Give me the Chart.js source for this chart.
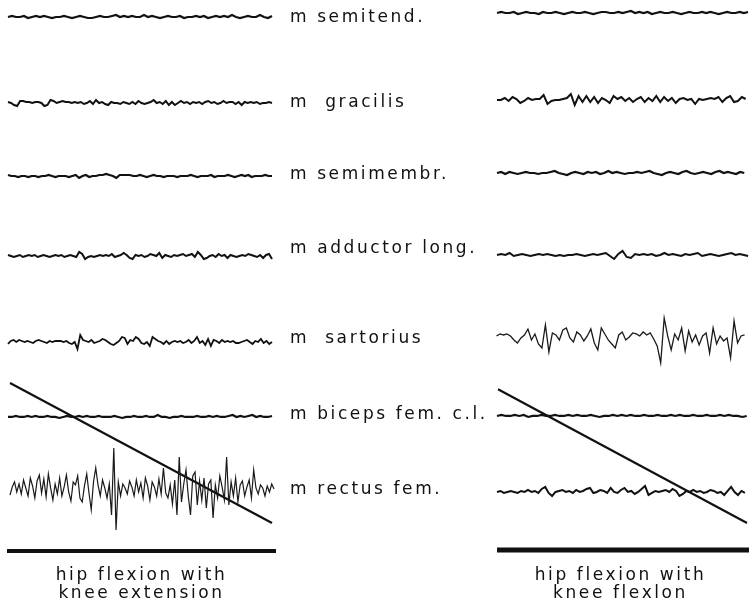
<!DOCTYPE html>
<html>
<head>
<meta charset="utf-8">
<script src="https://cdn.jsdelivr.net/npm/chart.js@4.4.1/dist/chart.umd.min.js"></script>
<style>
  html, body { margin: 0; padding: 0; background: #fff; overflow: hidden; width: 749px; height: 605px; }
  #left  { position: absolute; left: 0; top: 0; }
  #right { position: absolute; left: 490px; top: 0; }
</style>
</head>
<body>
<canvas id="left" width="490" height="605"></canvas>
<canvas id="right" width="280" height="605"></canvas>
<script>
// Muscle channels, top to bottom
const muscles = ['m semitend.', 'm  gracilis', 'm semimembr.', 'm adductor long.', 'm  sartorius', 'm biceps fem. c.l.', 'm rectus fem.'];

// Conditions
const captionLeft  = ['hip flexion with', 'knee extension'];
const captionRight = ['hip flexion with', 'knee flexlon'];

// EMG deflections (upward positive), hip flexion with knee extension
const semitendL = [0,1,0,0,1,-1,0,1,0,1,0,-1,0,0,1,0,-1,0,1,0,-1,-1,0,1,0,0,1,2,0,1,0,1,0,0,2,0,1,0,-1,0,1,0,0,1,-1,0,0,1,0,1,-1,0,1,0,1,0,2,0,-1,0,1,0,0,2,0,-1,1];
const gracilisL = [1,0,-2,-3,2,2,1,1,0,1,1,0,-3,-2,3,2,0,1,2,1,1,0,1,0,1,-1,0,2,-1,3,0,1,-1,-2,1,0,0,-1,1,0,-1,1,-1,2,0,-1,0,1,3,0,1,-1,2,-2,1,-2,0,2,0,1,-1,1,0,1,-1,1,2,0,1,-1,0,2,0,1,1,-1,1,-2,1,0,1,0,1,-1,0,0,1,0];
const semimembrL = [1,0,0,-1,0,0,-1,0,0,-1,0,0,1,0,-1,0,0,0,-1,0,1,-2,0,1,-1,0,0,1,1,2,1,0,-2,1,1,1,1,0,0,1,0,-1,0,1,0,0,-1,0,0,0,-1,0,0,0,1,0,-1,0,0,0,1,-1,0,0,0,1,0,-1,0,1,0,1,-1,0,0,0,1,0,0];
const adductorL = [1,0,-1,0,1,-1,0,1,0,1,-1,0,1,0,-1,0,1,0,1,-1,0,1,0,-1,4,2,-3,-1,0,-1,0,1,0,1,0,2,-1,0,1,3,1,-2,-3,1,0,1,-1,0,2,1,0,3,-2,1,0,-1,1,0,1,2,0,1,2,-1,4,1,-3,-2,0,1,-1,2,0,1,-2,1,0,-1,0,1,0,2,1,0,-1,1,-2,1,2,-3];
const sartoriusL = [-2,1,2,0,2,1,0,1,0,-1,1,2,1,0,-1,1,0,1,1,1,0,1,-1,-2,0,-7,7,2,1,0,2,-1,0,1,3,2,0,-2,-3,-1,1,5,4,-2,2,1,5,3,-1,-2,0,-4,5,3,1,0,-2,1,-2,0,1,0,1,-1,0,2,-1,1,5,-1,1,-3,3,-4,2,1,-1,2,0,1,0,1,-1,-1,0,1,2,0,-2,1,0,3,-1,1,-2,0];
const bicepsL = [0,0,1,0,0,1,0,1,0,0,1,0,0,-1,0,1,0,0,1,0,1,0,0,1,0,0,0,1,0,-1,0,0,1,0,0,1,0,0,2,0,0,-1,0,0,1,0,0,0,1,0,0,1,0,1,0,0,1,2,0,1,0,1,2,0,1,0,0,1];
const rectusL = [-5,3,8,-2,6,-4,10,2,-6,12,4,-8,9,15,-3,11,-7,16,2,-10,
                 6,-4,12,-6,3,15,-2,-11,8,5,14,-8,-12,4,16,-3,-20,8,22,5,
                 -6,10,2,-8,6,-25,42,-40,8,-6,6,2,-4,9,3,-6,10,-2,7,-8,
                 12,4,-10,8,3,-6,11,-4,22,-3,-8,5,-14,10,-25,33,-12,6,20,-6,
                 -25,14,18,-15,9,-10,12,-18,6,10,-28,5,-8,14,3,-10,33,-15,8,-6,
                 12,-12,5,9,-6,3,10,-8,20,2,-4,5,2,-6,4,-2,6,1];

// EMG deflections, hip flexion with knee flexion
const semitendR = [0,1,0,0,1,-1,0,1,0,0,-1,1,0,0,1,0,-1,0,1,0,0,1,0,-1,0,1,1,0,0,1,0,1,2,0,1,0,1,-1,0,1,0,0,1,0,-1,0,1,0,0,1,0,1,0,-1,0,1,0,0,1,0,1,0,0,1,-1,0];
const gracilisR = [0,0,2,-1,3,1,-3,-1,2,0,1,1,5,-4,-1,0,0,1,2,6,-5,4,-2,4,-2,3,-3,2,0,-3,4,1,3,-1,2,-2,1,3,-2,2,-1,4,-2,3,-1,2,-3,1,2,0,1,-4,1,0,1,2,1,3,-2,2,4,-2,-1,3,1,-3,2,1,3,-1,2];
const semimembrR = [0,1,-1,1,0,-1,0,1,0,0,-1,0,0,1,2,0,-1,-2,0,1,0,-1,1,0,1,-1,0,2,0,1,0,-1,0,0,1,0,1,2,0,-1,-2,0,1,0,-1,1,2,0,-1,0,1,0,-1,1,2,0,1,0,-1,1,0,1,0,-1,1,0,1];
const adductorR = [0,1,0,2,-1,0,1,0,-1,0,1,0,1,0,-1,0,-1,0,0,1,0,-1,0,1,0,1,2,-1,-4,1,4,-2,-3,1,0,1,0,1,-1,0,2,0,1,0,-1,1,0,1,2,-1,0,1,0,-1,0,1,2,0,1,0,-1,1,0,2,0,1];
const sartoriusR = [-6,2,4,3,4,2,-2,-5,0,3,9,-2,4,-6,-10,13,-14,5,3,-2,8,10,0,-4,6,3,-3,2,9,-5,-12,10,4,-2,-6,-10,3,6,-2,1,5,4,2,6,3,5,-1,-8,-25,20,2,-12,4,-2,10,-13,7,-4,3,-7,2,5,-15,10,-6,2,-3,0,-20,17,-5,2,3,4,2,5,3,2,4,1];
const bicepsR = [0,1,0,0,1,0,1,-1,0,0,1,0,0,1,0,0,1,0,1,0,0,1,0,-1,0,0,1,0,1,0,1,0,0,1,0,0,1,0,0,1,0,1,0,0,1,0,0,1,0,0,1,0,1,0,0,-1,0,1,0,0,1,0];
const rectusR = [0,1,-1,0,1,0,-1,1,0,2,0,1,-1,3,5,-1,-4,0,1,2,0,1,-1,2,0,1,3,4,-1,0,2,1,-1,4,0,-1,2,4,0,1,-2,0,3,6,-3,-1,1,0,1,2,0,3,1,-4,-2,1,0,2,0,1,-1,0,2,1,-1,0,-3,1,5,0,-3,1,-1,2,0,1,2,0,3,1];

// Hip angle (deg) at the start and end of the movement, and the movement times
const hipAngleL = [0, 90];
const hipTimeL  = [3, 265];
const hipAngleR = [4, 90];
const hipTimeR  = [1, 250];

// Movement marker (start, end time)
const markerL = [0, 269];
const markerR = [0, 280];

// ---- layout ----
const traceRowsL = [17, 103, 176, 256, 342, 417, 490];
const traceRowsR = [13, 100, 173, 255, 338, 416, 492];
const labelRows  = [18, 103, 175, 249, 339, 415, 490];
const markerRowL = 551, markerRowR = 550;
const FONT = { family: 'DejaVu Sans', size: 17, lineHeight: 1.06 };
const LABEL_FONT = { family: 'DejaVu Sans', size: 17, lineHeight: 1.125 };
const INK = '#111';

function trace(values, base, t0, t1, width, color) {
  const step = (t1 - t0) / (values.length - 1);
  return {
    data: values.map((v, i) => ({ x: t0 + i * step, y: base - v })),
    borderColor: color || INK, borderWidth: width, pointRadius: 0,
    yAxisID: 'y', clip: false, tension: 0
  };
}
function angle(ang, time) {
  return {
    data: ang.map((a, i) => ({ x: time[i], y: a })),
    borderColor: INK, borderWidth: 2.2, pointRadius: 0, yAxisID: 'angle', clip: false
  };
}
function marker(times, row, width) {
  return {
    data: times.map(t => ({ x: t, y: row })),
    borderColor: INK, borderWidth: width, pointRadius: 0, yAxisID: 'y', clip: false,
    borderCapStyle: 'butt'
  };
}

// wide hand-lettered look
const lettering = { id: 'lettering',
  beforeLayout(chart) { chart.ctx.letterSpacing = '2.6px'; },
  beforeDraw(chart) { chart.ctx.letterSpacing = '2.6px'; } };

function xScale(max, caption) {
  return {
    type: 'linear', min: 0, max: max,
    ticks: { display: false }, grid: { display: false, drawTicks: false }, border: { display: false },
    title: { display: true, text: caption, color: INK, font: FONT, padding: { top: 5, bottom: 2 } }
  };
}
const angleScale = { type: 'linear', display: false, min: -246.2, max: 115.07, reverse: true };

const common = {
  responsive: false, animation: false, events: [],
  plugins: { legend: { display: false }, tooltip: { enabled: false } }
};

new Chart(document.getElementById('left'), {
  type: 'line',
  data: { datasets: [
    trace(semitendL, traceRowsL[0], 1, 265, 2.2),
    trace(gracilisL, traceRowsL[1], 1, 265, 2),
    trace(semimembrL, traceRowsL[2], 1, 265, 2.2),
    trace(adductorL, traceRowsL[3], 1, 265, 2),
    trace(sartoriusL, traceRowsL[4], 1, 265, 1.8),
    trace(bicepsL, traceRowsL[5], 1, 265, 2.2),
    trace(rectusL, traceRowsL[6], 3, 267, 1.2, '#1a1a1a'),
    angle(hipAngleL, hipTimeL),
    marker(markerL, markerRowL, 4)
  ] },
  options: Object.assign({}, common, {
    layout: { autoPadding: false, padding: { left: 7, right: 0, top: 0, bottom: 0 } },
    scales: {
      x: xScale(269, captionLeft),
      y: {
        type: 'linear', position: 'right', min: 0, max: 562, reverse: true, bounds: 'data',
        grid: { display: false, drawTicks: false }, border: { display: false },
        afterBuildTicks: s => { s.ticks = labelRows.map(v => ({ value: v })); },
        afterFit: s => { s.width = 214; s.paddingTop = 0; s.paddingBottom = 0; },
        ticks: { autoSkip: false, padding: 14, color: INK, font: LABEL_FONT,
                 callback: (v, i) => muscles[i] }
      },
      angle: angleScale
    }
  }),
  plugins: [lettering]
});

new Chart(document.getElementById('right'), {
  type: 'line',
  data: { datasets: [
    trace(semitendR, traceRowsR[0], 0, 272, 2.2),
    trace(gracilisR, traceRowsR[1], 0, 272, 2),
    trace(semimembrR, traceRowsR[2], 0, 272, 2.2),
    trace(adductorR, traceRowsR[3], 0, 272, 2),
    trace(sartoriusR, traceRowsR[4], -4, 272, 1.3, '#1a1a1a'),
    trace(bicepsR, traceRowsR[5], 0, 272, 2.2),
    trace(rectusR, traceRowsR[6], 0, 272, 2),
    angle(hipAngleR, hipTimeR),
    marker(markerR, markerRowR, 5)
  ] },
  options: Object.assign({}, common, {
    layout: { autoPadding: false, padding: { left: 7, right: 26, top: 0, bottom: 0 } },
    scales: {
      x: xScale(247, captionRight),
      y: { type: 'linear', display: false, min: 0, max: 562, reverse: true },
      angle: angleScale
    }
  }),
  plugins: [lettering]
});
</script>
</body>
</html>
